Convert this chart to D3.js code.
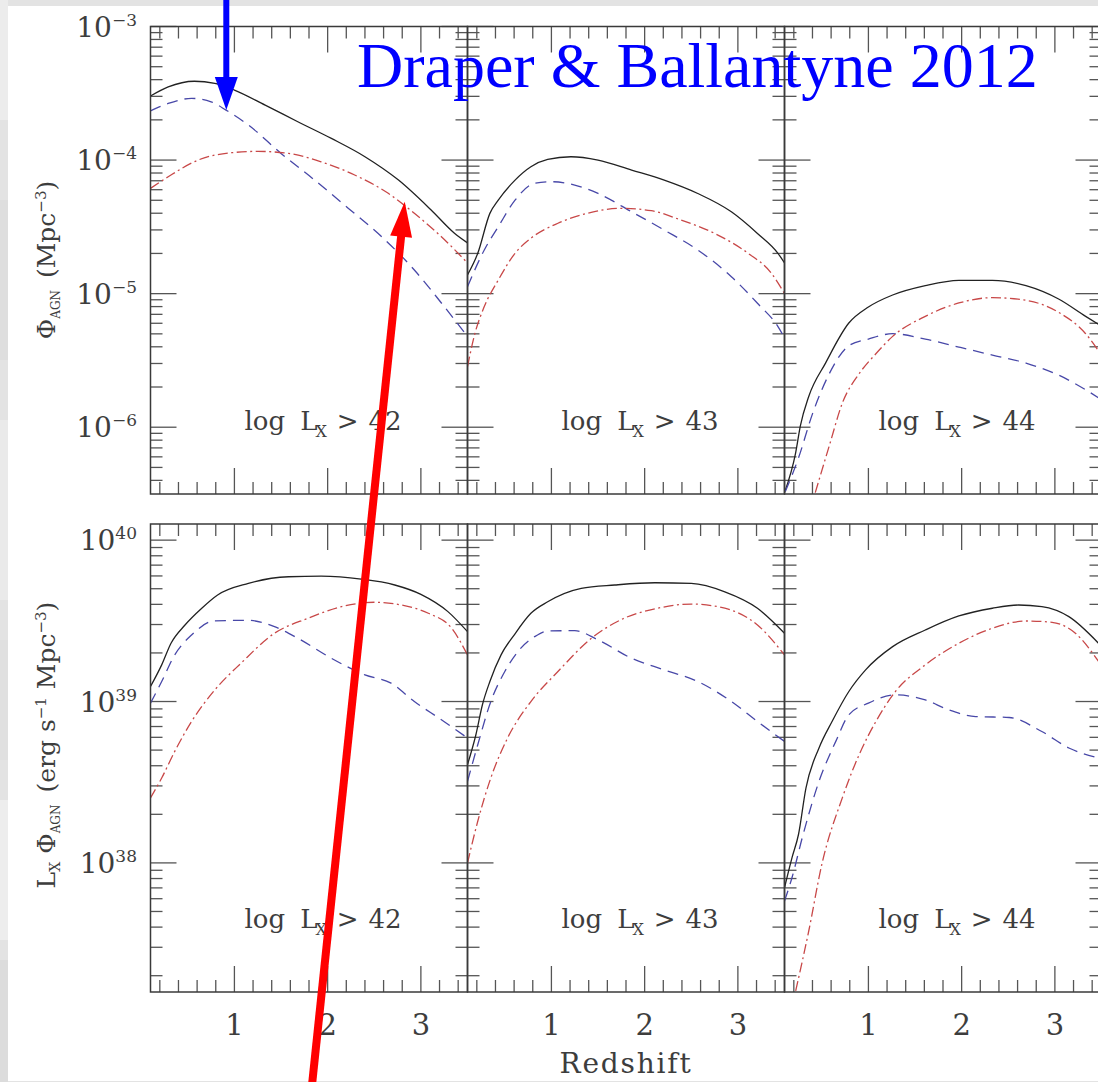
<!DOCTYPE html>
<html>
<head>
<meta charset="utf-8">
<script src="https://cdn.jsdelivr.net/npm/d3@7"></script>
<style>
  html, body { margin: 0; padding: 0; background: #e4e4e4; }
  svg { display: block; }
  text { font-family: "DejaVu Serif", serif; }
</style>
</head>
<body>
<svg id="fig" width="1098" height="1082"></svg>
<script>
// ---- data: [redshift, log10 value] ----
// number density of AGN above each luminosity threshold (Mpc^-3)
const phi42Total = [[0.1,-3.52],[0.29,-3.452],[0.57,-3.41],[0.79,-3.426],[1.0,-3.476],[1.33,-3.589],[1.68,-3.713],[2.04,-3.838],[2.40,-3.975],[2.76,-4.15],[3.11,-4.374],[3.36,-4.548],[3.5,-4.62]];
const phi42Blue  = [[0.1,-3.631],[0.29,-3.576],[0.54,-3.538],[0.75,-3.564],[0.91,-3.626],[1.15,-3.738],[1.50,-3.95],[1.86,-4.15],[2.22,-4.36],[2.58,-4.574],[2.93,-4.823],[3.22,-5.07],[3.5,-5.32]];
const phi42Red   = [[0.1,-4.212],[0.29,-4.125],[0.61,-4.0],[0.97,-3.945],[1.25,-3.935],[1.58,-3.95],[1.93,-4.013],[2.29,-4.112],[2.65,-4.249],[2.93,-4.399],[3.22,-4.574],[3.5,-4.77]];

const phi43Total = [[0.1,-4.86],[0.21,-4.698],[0.34,-4.399],[0.43,-4.30],[0.61,-4.15],[0.78,-4.05],[0.96,-3.995],[1.21,-3.975],[1.5,-4.0],[1.86,-4.075],[2.21,-4.15],[2.57,-4.25],[2.93,-4.387],[3.21,-4.549],[3.43,-4.698],[3.5,-4.77]];
const phi43Blue  = [[0.1,-4.948],[0.28,-4.673],[0.43,-4.499],[0.61,-4.30],[0.82,-4.174],[1.0,-4.162],[1.25,-4.187],[1.5,-4.25],[1.86,-4.387],[2.21,-4.524],[2.57,-4.673],[2.93,-4.873],[3.21,-5.072],[3.43,-5.247],[3.5,-5.33]];
const phi43Red   = [[0.1,-5.546],[0.18,-5.297],[0.28,-5.097],[0.43,-4.898],[0.61,-4.698],[0.78,-4.585],[1.07,-4.473],[1.32,-4.411],[1.75,-4.361],[2.07,-4.379],[2.39,-4.449],[2.75,-4.549],[3.11,-4.698],[3.36,-4.848],[3.5,-5.0]];

const phi44Total = [[0.1,-6.49],[0.22,-6.19],[0.27,-5.99],[0.36,-5.77],[0.54,-5.52],[0.79,-5.22],[1.0,-5.10],[1.26,-5.01],[1.61,-4.94],[1.97,-4.90],[2.33,-4.90],[2.69,-4.94],[3.04,-5.04],[3.33,-5.17],[3.47,-5.23]];
const phi44Blue  = [[0.11,-6.48],[0.25,-6.23],[0.40,-5.90],[0.58,-5.60],[0.79,-5.39],[1.0,-5.34],[1.26,-5.30],[1.61,-5.34],[1.97,-5.40],[2.33,-5.46],[2.69,-5.52],[3.04,-5.61],[3.47,-5.78]];
const phi44Red   = [[0.43,-6.49],[0.58,-6.14],[0.72,-5.82],[0.90,-5.60],[1.08,-5.45],[1.26,-5.32],[1.61,-5.17],[1.97,-5.07],[2.33,-5.03],[2.69,-5.05],[3.04,-5.14],[3.33,-5.30],[3.47,-5.43]];

// luminosity density L_X * Phi (erg s^-1 Mpc^-3)
const lphi42Total = [[0.1,39.093],[0.22,39.227],[0.32,39.361],[0.47,39.474],[0.65,39.578],[0.82,39.66],[1.15,39.732],[1.58,39.773],[1.93,39.777],[2.36,39.759],[2.72,39.722],[3.0,39.664],[3.29,39.557],[3.5,39.433]];
const lphi42Blue  = [[0.1,38.99],[0.22,39.124],[0.36,39.289],[0.54,39.412],[0.79,39.5],[1.15,39.503],[1.43,39.464],[1.68,39.392],[2.04,39.268],[2.40,39.165],[2.68,39.114],[2.93,39.0],[3.22,38.887],[3.5,38.774]];
const lphi42Red   = [[0.1,38.403],[0.22,38.526],[0.36,38.691],[0.54,38.876],[0.79,39.072],[1.07,39.237],[1.43,39.423],[1.79,39.516],[2.15,39.588],[2.50,39.615],[2.79,39.598],[3.08,39.547],[3.33,39.454],[3.5,39.289]];

const lphi43Total = [[0.1,38.609],[0.19,38.794],[0.26,38.98],[0.34,39.124],[0.46,39.289],[0.60,39.412],[0.78,39.547],[0.96,39.618],[1.32,39.701],[1.68,39.722],[2.11,39.736],[2.50,39.732],[2.86,39.68],[3.21,39.578],[3.5,39.423]];
const lphi43Blue  = [[0.1,38.505],[0.21,38.732],[0.35,39.0],[0.50,39.186],[0.64,39.309],[0.82,39.402],[0.96,39.437],[1.25,39.439],[1.50,39.382],[1.86,39.268],[2.21,39.196],[2.57,39.124],[2.93,39.0],[3.21,38.876],[3.5,38.753]];
const lphi43Red   = [[0.1,38.0],[0.21,38.258],[0.35,38.526],[0.53,38.774],[0.78,39.0],[1.07,39.186],[1.43,39.392],[1.78,39.516],[2.14,39.578],[2.50,39.604],[2.86,39.578],[3.21,39.474],[3.5,39.289]];

const lphi44Total = [[0.1,37.846],[0.18,38.031],[0.25,38.176],[0.33,38.464],[0.47,38.712],[0.61,38.876],[0.79,39.062],[0.97,39.196],[1.26,39.34],[1.61,39.443],[1.97,39.53],[2.33,39.578],[2.61,39.598],[2.86,39.588],[3.15,39.526],[3.47,39.36]];
const lphi44Blue  = [[0.1,37.763],[0.18,37.908],[0.29,38.155],[0.47,38.505],[0.65,38.753],[0.79,38.918],[1.0,38.99],[1.29,39.041],[1.61,39.01],[1.86,38.949],[2.15,38.907],[2.51,38.901],[2.86,38.814],[3.15,38.712],[3.47,38.65]];
const lphi44Red   = [[0.22,37.207],[0.36,37.578],[0.50,37.99],[0.72,38.403],[0.90,38.67],[1.08,38.876],[1.29,39.062],[1.61,39.227],[1.97,39.361],[2.33,39.454],[2.69,39.499],[2.97,39.491],[3.22,39.423],[3.47,39.247]];

// thresholds, axis ranges and tick labels
const thresholds = ["42", "43", "44"];
const redshiftRange = [0.1, 3.5];
const redshiftLabels = [1, 2, 3];
const phiLogRange = [-6.5, -3];
const lphiLogRange = [37.2, 40.1];
const phiTickExps = [-3, -4, -5, -6];
const lphiTickExps = [40, 39, 38];
// annotation targets in the first panel: [redshift, log10 Phi]
const blueArrowTarget = [0.913, -3.626];
const redArrowTarget = [2.827, -4.312];

// ---- layout ----
const svg = d3.select("#fig");
const colX = [150.5, 467.5, 784.5];
const panelW = 317;
const rowY = [{top: 26.5, bottom: 494}, {top: 524, bottom: 992}];

const FRAME = "#3a3a3a", TICK = "#555", LABEL = "#3d3d3d";

// page background with the white figure area
svg.append("rect").attr("x", 0).attr("y", 0).attr("width", 1098).attr("height", 1082).attr("fill", "#e3e3e3");
[[0, 120, "#ececec"], [200, 160, "#dedede"], [420, 180, "#eaeaea"], [640, 120, "#e0e0e0"], [800, 140, "#ededed"], [960, 122, "#dcdcdc"]]
  .forEach(([y, h, c]) => svg.append("rect").attr("x", 0).attr("y", y).attr("width", 8).attr("height", h).attr("fill", c));
svg.append("rect").attr("x", 8).attr("y", 6).attr("width", 1090).attr("height", 1075).attr("fill", "#fff");

const rows = [
  {range: phiLogRange, exps: phiTickExps,
   series: [[phi42Total, phi42Blue, phi42Red], [phi43Total, phi43Blue, phi43Red], [phi44Total, phi44Blue, phi44Red]]},
  {range: lphiLogRange, exps: lphiTickExps,
   series: [[lphi42Total, lphi42Blue, lphi42Red], [lphi43Total, lphi43Blue, lphi43Red], [lphi44Total, lphi44Blue, lphi44Red]]}
];

const styles = [
  {stroke: "#222", width: 1.3, dash: null},
  {stroke: "#4848a8", width: 1.3, dash: "11,7"},
  {stroke: "#c84848", width: 1.3, dash: "10,3.5,2,3.5"}
];

function logTicks(range) {
  const out = [];
  for (let d = Math.floor(range[0]); d <= Math.ceil(range[1]); d++) {
    for (let k = 1; k <= 9; k++) {
      const v = Math.log10(k) + d;
      if (v >= range[0] - 1e-9 && v <= range[1] + 1e-9) out.push({v: Math.pow(10, v), major: k === 1});
    }
  }
  return out;
}
const zTicks = d3.range(2, 35, 2).map(i => ({v: i / 10, major: i % 10 === 0}));

const MAJ = 26, MIN = 12;
let firstPanel = null;

rows.forEach((row, r) => {
  const ry = rowY[r];
  const y = d3.scaleLog().domain(row.range.map(e => Math.pow(10, e))).range([ry.bottom, ry.top]);
  const yT = logTicks(row.range);

  colX.forEach((cx, c) => {
    const x = d3.scaleLinear().domain(redshiftRange).range([cx, cx + panelW]);
    if (r === 0 && c === 0) firstPanel = {x, y};
    const g = svg.append("g");
    const clipId = `clip-${r}-${c}`;
    svg.append("clipPath").attr("id", clipId).append("rect")
      .attr("x", cx).attr("y", ry.top).attr("width", panelW).attr("height", ry.bottom - ry.top);

    // tick marks on all four sides, pointing inwards
    const tk = g.append("g").attr("stroke", TICK).attr("stroke-width", 1.3);
    zTicks.forEach(t => {
      const px = x(t.v), L = t.major ? MAJ : MIN;
      tk.append("line").attr("x1", px).attr("x2", px).attr("y1", ry.top).attr("y2", ry.top + L);
      tk.append("line").attr("x1", px).attr("x2", px).attr("y1", ry.bottom).attr("y2", ry.bottom - L);
    });
    yT.forEach(t => {
      const py = y(t.v), L = t.major ? MAJ : MIN;
      tk.append("line").attr("x1", cx).attr("x2", cx + L).attr("y1", py).attr("y2", py);
      tk.append("line").attr("x1", cx + panelW).attr("x2", cx + panelW - L).attr("y1", py).attr("y2", py);
    });

    // curves
    const line = d3.line().x(d => x(d[0])).y(d => y(Math.pow(10, d[1]))).curve(d3.curveMonotoneX);
    const lines = g.append("g").attr("clip-path", `url(#${clipId})`);
    row.series[c].forEach((s, i) => {
      const st = styles[i];
      lines.append("path").attr("d", line(s)).attr("fill", "none")
        .attr("stroke", st.stroke).attr("stroke-width", st.width)
        .attr("stroke-dasharray", st.dash).attr("stroke-linejoin", "round");
    });

    // frame
    g.append("rect").attr("x", cx).attr("y", ry.top).attr("width", panelW).attr("height", ry.bottom - ry.top)
      .attr("fill", "none").attr("stroke", FRAME).attr("stroke-width", 1.5);

    // threshold label
    const lt = g.append("text").attr("x", cx + 94).attr("y", ry.bottom - 64.5)
      .attr("font-size", 26).attr("fill", LABEL);
    lt.append("tspan").text("log");
    lt.append("tspan").attr("dx", 15).text("L");
    lt.append("tspan").attr("dx", -2).attr("dy", 7).attr("font-size", 16).text("X");
    lt.append("tspan").attr("dx", 10).attr("dy", -7).text(">");
    lt.append("tspan").attr("dx", 10).text(thresholds[c]);

    // redshift labels along the bottom row
    if (r === 1) {
      redshiftLabels.forEach(v => {
        g.append("text").attr("x", x(v)).attr("y", 1035).attr("text-anchor", "middle")
          .attr("font-size", 29).attr("fill", LABEL).text(v);
      });
    }
  });

  // decade labels on the left axis
  row.exps.forEach(e => {
    const t = svg.append("text").attr("x", 137).attr("y", y(Math.pow(10, e)) + 10)
      .attr("text-anchor", "end").attr("font-size", 28).attr("fill", LABEL);
    t.append("tspan").text("10");
    t.append("tspan").attr("dy", -11).attr("font-size", 17).text(e < 0 ? "\u2212" + (-e) : String(e));
  });
});

// axis titles
const yt1 = svg.append("text").attr("transform", "translate(55,260) rotate(-90)")
  .attr("text-anchor", "middle").attr("font-size", 25).attr("fill", LABEL);
yt1.append("tspan").text("\u03A6");
yt1.append("tspan").attr("dy", 5).attr("font-size", 12).text("AGN");
yt1.append("tspan").attr("dx", 12).attr("dy", -5).text("(Mpc");
yt1.append("tspan").attr("dy", -9).attr("font-size", 15).text("\u22123");
yt1.append("tspan").attr("dy", 9).text(")");

const yt2 = svg.append("text").attr("transform", "translate(55,745) rotate(-90)")
  .attr("text-anchor", "middle").attr("font-size", 25).attr("fill", LABEL);
yt2.append("tspan").text("L");
yt2.append("tspan").attr("dy", 5).attr("font-size", 14).text("X");
yt2.append("tspan").attr("dx", 8).attr("dy", -5).text("\u03A6");
yt2.append("tspan").attr("dy", 5).attr("font-size", 12).text("AGN");
yt2.append("tspan").attr("dx", 12).attr("dy", -5).text("(erg s");
yt2.append("tspan").attr("dy", -9).attr("font-size", 15).text("\u22121");
yt2.append("tspan").attr("dx", 8).attr("dy", 9).text("Mpc");
yt2.append("tspan").attr("dy", -9).attr("font-size", 15).text("\u22123");
yt2.append("tspan").attr("dy", 9).text(")");

svg.append("text").attr("x", 626).attr("y", 1073).attr("text-anchor", "middle")
  .attr("font-size", 28).attr("letter-spacing", 1.8).attr("fill", LABEL).text("Redshift");

// title
svg.append("text").attr("x", 357).attr("y", 87)
  .style("font-family", "'Liberation Serif', 'Times New Roman', serif")
  .attr("font-size", 64).attr("fill", "#0000ff").text("Draper & Ballantyne 2012");

// arrows pointing at the curves of the first panel
function arrow(tail, tip, color, width, headLen, headHalf) {
  const dx = tip[0] - tail[0], dy = tip[1] - tail[1], len = Math.hypot(dx, dy);
  const ux = dx / len, uy = dy / len, px = -uy, py = ux;
  const bx = tip[0] - ux * headLen, by = tip[1] - uy * headLen;
  svg.append("line").attr("x1", tail[0]).attr("y1", tail[1]).attr("x2", bx + ux * 2).attr("y2", by + uy * 2)
    .attr("stroke", color).attr("stroke-width", width);
  svg.append("polygon").attr("fill", color)
    .attr("points", [[tip[0], tip[1]], [bx + px * headHalf, by + py * headHalf], [bx - px * headHalf, by - py * headHalf]].map(p => p.join(",")).join(" "));
}
const bTip = [firstPanel.x(blueArrowTarget[0]), firstPanel.y(Math.pow(10, blueArrowTarget[1]))];
arrow([bTip[0], -5], bTip, "#0000ff", 6, 33, 11.5);
const rTip = [firstPanel.x(redArrowTarget[0]), firstPanel.y(Math.pow(10, redArrowTarget[1]))];
arrow([312, 1085], rTip, "#ff0000", 8, 35, 11);
</script>
</body>
</html>
